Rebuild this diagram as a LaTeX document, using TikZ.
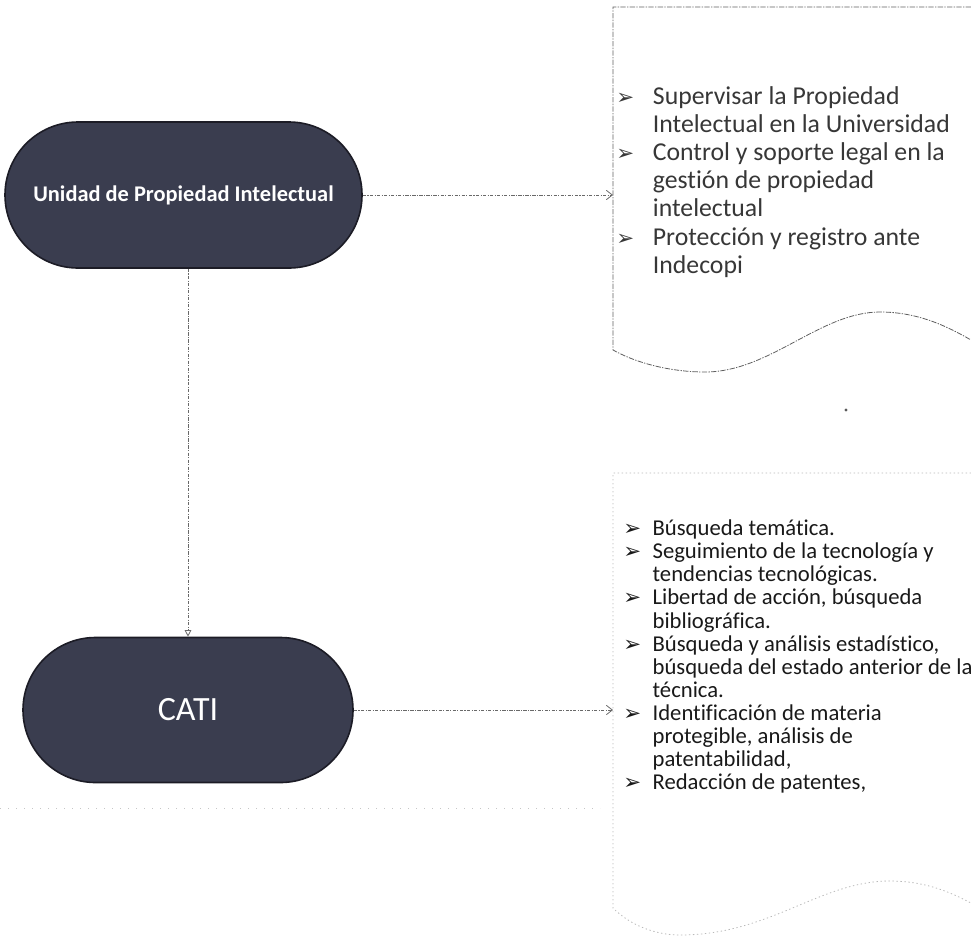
\documentclass[tikz,border=0pt]{standalone}
\usepackage{fontspec}
\setmainfont{Carlito}[Ligatures={NoCommon}]
\newfontfamily\dejavu{DejaVu Sans}
\usetikzlibrary{shapes.misc,arrows.meta}
\definecolor{pillfill}{RGB}{58,61,79}
\definecolor{pilldraw}{RGB}{28,28,38}
\definecolor{linegray}{RGB}{105,105,105}
\definecolor{boxgray}{RGB}{95,95,95}
\definecolor{txtA}{RGB}{55,55,55}
\definecolor{txtB}{RGB}{25,25,25}
\newcommand{\bulA}{\makebox[27.5pt][l]{\dejavu\fontsize{16}{16}\selectfont ➢}}
\newcommand{\bulB}{\makebox[22pt][l]{\dejavu\fontsize{16}{16}\selectfont ➢}}
\tikzset{
  pill/.style={rounded rectangle, fill=pillfill, draw=pilldraw, line width=1.2pt,
    text=white, inner sep=0pt},
  conn/.style={draw=linegray, line width=0.6pt, dash pattern=on 2.5pt off 1pt on 0.8pt off 1pt},
  docA/.style={draw=boxgray, line width=0.6pt, dash pattern=on 4pt off 1pt on 1pt off 1pt},
  docB/.style={draw=gray!55, line width=0.6pt, dash pattern=on 1pt off 2pt},
  listA/.style={anchor=base west, inner sep=0pt, text=txtA, align=left},
  listB/.style={anchor=base west, inner sep=0pt, text=txtB, align=left},
}
\begin{document}
\begin{tikzpicture}[x=0.75pt,y=-0.75pt]
\useasboundingbox (0,0) rectangle (971,936);

% pills
\node[pill, minimum width=267.75pt, minimum height=109.5pt,
  font=\bfseries\fontsize{16.8}{18}\selectfont] (u) at (183.5,195) {Unidad de Propiedad Intelectual};
\node[pill, minimum width=247.5pt, minimum height=108.75pt,
  font=\fontsize{25.5}{28}\selectfont] (c) at (188,710) {CATI};

% document shape 1
\draw[docA] (971,7) -- (613,7) -- (613,350)
  .. controls (640,365) and (675,372) .. (705,372)
  .. controls (770,372) and (820,312) .. (880,312)
  .. controls (920,312) and (950,328) .. (971,340);
\coordinate (d1w) at (613,195);

% document shape 2
\draw[docB] (971,473) -- (613,473) -- (613,908)
  .. controls (630,925) and (655,935) .. (680,935)
  .. controls (770,935) and (820,881) .. (890,881)
  .. controls (925,881) and (950,892) .. (971,903);
\coordinate (d2w) at (613,710);

% faint scan line and speck
\draw[draw=gray!45, line width=0.6pt, dash pattern=on 1pt off 5pt] (0,808) -- (600,808);
\fill[gray!70!black] (846,410) circle (1.6);

% list 1
\node[listA, font=\fontsize{19.3}{21.15}\selectfont] (t1) at (616,104) {%
\begin{tabular}[t]{@{}l@{}l@{}}
\bulA & Supervisar la Propiedad\\
 & Intelectual en la Universidad\\
\bulA & Control y soporte legal en la\\
 & gestión de propiedad\\
 & intelectual\\
\bulA & Protección y registro ante\\
 & Indecopi
\end{tabular}};

% list 2
\node[listB, font=\fontsize{17}{17.35}\selectfont] (t2) at (623,535.5) {%
\begin{tabular}[t]{@{}l@{}l@{}}
\bulB & Búsqueda temática.\\
\bulB & Seguimiento de la tecnología y\\
 & tendencias tecnológicas.\\
\bulB & Libertad de acción, búsqueda\\
 & bibliográfica.\\
\bulB & Búsqueda y análisis estadístico,\\
 & búsqueda del estado anterior de la\\
 & técnica.\\
\bulB & Identificación de materia\\
 & protegible, análisis de\\
 & patentabilidad,\\
\bulB & Redacción de patentes,
\end{tabular}};

% connectors
\draw[conn, -{Straight Barb[length=4.5pt,width=7pt]}] (u.east) -- (d1w);
\draw[conn, -{Triangle[open,length=5pt,width=5pt]}] (c.north |- u.south) -- (c.north);
\draw[conn, -{Straight Barb[length=4.5pt,width=7pt]}] (c.east) -- (d2w);
\end{tikzpicture}
\end{document}
